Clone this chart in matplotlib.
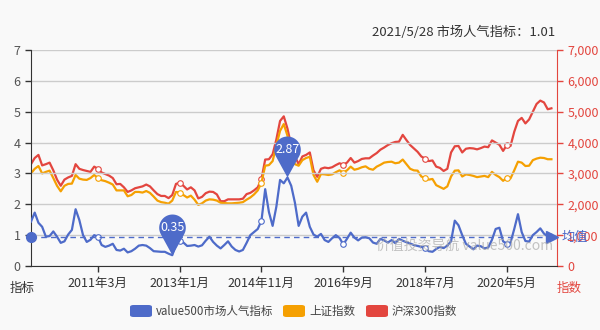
import numpy as np
import matplotlib
matplotlib.use("Agg")
import matplotlib.pyplot as plt
from matplotlib.path import Path
from matplotlib.markers import MarkerStyle
from matplotlib.patches import FancyBboxPatch
from matplotlib.ticker import FuncFormatter

plt.rcParams['font.family'] = ['Noto Sans CJK SC', 'DejaVu Sans']

# 月度数据 2009年9月 ~ 2021年5月
tick_idx = [18, 40, 62, 84, 106, 128]
tick_labels = ['2011年3月', '2013年1月', '2014年11月', '2016年9月', '2018年7月', '2020年5月']

# value500市场人气指标
popularity = [
    1.44, 1.73, 1.40, 1.27, 0.95, 0.97, 1.12, 0.95, 0.75, 0.80,
    1.02, 1.17, 1.84, 1.49, 1.00, 0.78, 0.85, 1.00, 0.95, 0.68,
    0.62, 0.66, 0.72, 0.52, 0.50, 0.56, 0.44, 0.48, 0.56, 0.66,
    0.68, 0.66, 0.58, 0.48, 0.47, 0.46, 0.46, 0.40, 0.35, 0.70,
    0.82, 0.76, 0.65, 0.66, 0.68, 0.63, 0.67, 0.82, 0.95, 0.78,
    0.66, 0.57, 0.68, 0.80, 0.63, 0.52, 0.47, 0.52, 0.75, 1.00,
    1.10, 1.20, 1.47, 2.49, 1.75, 1.30, 1.92, 2.79, 2.68, 2.87,
    2.60, 2.05, 1.30, 1.60, 1.73, 1.27, 1.02, 0.95, 1.04, 0.84,
    0.78, 0.90, 1.00, 0.91, 0.70, 0.88, 1.08, 0.92, 0.83, 0.92,
    0.93, 0.90, 0.76, 0.72, 0.88, 0.83, 0.76, 0.84, 0.74, 0.88,
    0.82, 0.77, 0.73, 0.68, 0.65, 0.62, 0.58, 0.48, 0.46, 0.55,
    0.62, 0.58, 0.66, 0.80, 1.47, 1.32, 1.00, 0.72, 0.63, 0.54,
    0.66, 0.64, 0.57, 0.60, 0.85, 1.20, 1.24, 0.80, 0.72, 0.76,
    1.20, 1.68, 1.10, 0.81, 0.79, 1.00, 1.10, 1.22, 1.05, 0.96,
    1.01,
]

# 上证指数
sh_index = [
    3000, 3150, 3240, 3000, 3050, 3090, 2850, 2600, 2420, 2600,
    2660, 2670, 2950, 2830, 2800, 2790, 2850, 2950, 2850, 2780,
    2750, 2700, 2640, 2450, 2450, 2450, 2260, 2300, 2400, 2400,
    2380, 2430, 2370, 2250, 2120, 2070, 2050, 2020, 2120, 2400,
    2380, 2300, 2220, 2280, 2150, 1980, 2030, 2120, 2160, 2150,
    2120, 2050, 2040, 2030, 2030, 2040, 2050, 2070, 2150, 2220,
    2320, 2450, 2700, 3250, 3270, 3400, 3900, 4380, 4600, 4220,
    3620, 3300, 3250, 3430, 3500, 3540, 2950, 2730, 2980, 2970,
    2950, 2970, 3040, 3100, 3030, 3100, 3220, 3120, 3150, 3200,
    3230, 3150, 3120, 3220, 3280, 3350, 3370, 3380, 3330, 3350,
    3450, 3300, 3150, 3100, 3090, 2900, 2850, 2800, 2820, 2620,
    2560, 2500, 2580, 2900, 3090, 3100, 2900, 2970, 2950, 2920,
    2880, 2900, 2920, 2880, 3050, 2950, 2880, 2760, 2860, 2840,
    3100, 3380, 3350, 3240, 3250, 3430, 3480, 3510, 3500, 3460,
    3460,
]

# 沪深300指数
hs300_index = [
    3300, 3500, 3600, 3260, 3300, 3350, 3100, 2800, 2600, 2800,
    2870, 2920, 3300, 3150, 3110, 3080, 3050, 3220, 3150, 3030,
    2980, 2930, 2850, 2650, 2660, 2550, 2400, 2450, 2520, 2550,
    2580, 2640, 2580, 2450, 2330, 2270, 2270, 2200, 2300, 2660,
    2700, 2600, 2480, 2550, 2450, 2190, 2240, 2360, 2410, 2400,
    2320, 2100, 2100, 2160, 2160, 2160, 2160, 2180, 2330, 2370,
    2450, 2550, 2820, 3450, 3460, 3620, 4100, 4700, 4850, 4450,
    3900, 3550, 3300, 3550, 3600, 3680, 3100, 2890, 3150, 3190,
    3170, 3200, 3270, 3330, 3280, 3350, 3500, 3350, 3400, 3470,
    3490, 3490, 3580, 3660, 3770, 3840, 3920, 3980, 4020, 4030,
    4250, 4080, 3920, 3810, 3700, 3550, 3480, 3400, 3420, 3220,
    3180, 3080, 3150, 3680, 3880, 3890, 3680, 3800, 3820, 3810,
    3780, 3820, 3870, 3850, 4070, 4000, 3930, 3730, 3920, 3890,
    4350, 4700, 4800, 4620, 4750, 5000, 5250, 5360, 5300, 5080,
    5110,
]

avg_value = 0.93
last_date = '2021/5/28'

blue = '#4e6bc9'
orange = '#f5a002'
red = '#e3463f'
bg = '#f9f9f9'


def pin_path():
    # 气泡标记，尖端在 (0, 0)
    r, c = 1.0, 2.08
    a = np.degrees(np.arccos(r / c))
    t = np.radians(np.linspace(-90 + a, 270 - a, 60))
    verts = [(0, 0)] + [(r * np.cos(v), c + r * np.sin(v)) for v in t] + [(0, 0)]
    return Path(verts, closed=True)


x = np.arange(len(popularity))

fig = plt.figure(figsize=(6, 3.3), dpi=100, facecolor=bg)
ax = fig.add_axes([31 / 600, 64 / 330, 526 / 600, 216 / 330], facecolor=bg)
ax2 = ax.twinx()

ax2.plot(x, hs300_index, color=red, lw=1.6, marker='o', ms=4, mfc='white',
         mec=red, mew=0.8, markevery=tick_idx, zorder=2)
ax2.plot(x, sh_index, color=orange, lw=1.6, marker='o', ms=4, mfc='white',
         mec=orange, mew=0.8, markevery=tick_idx, zorder=2)

ax.set_zorder(ax2.get_zorder() + 1)
ax.patch.set_visible(False)
fig.patch.set_facecolor(bg)

ax.plot(x, popularity, color=blue, lw=1.6, marker='o', ms=4, mfc='white',
        mec=blue, mew=0.8, markevery=tick_idx, zorder=3)

# 均值线
xmax = len(popularity) + 0.5
ax.plot([0, xmax], [avg_value, avg_value], color=blue, lw=1, ls=(0, (4, 3)), zorder=3)
ax.plot(0, avg_value, 'o', color=blue, ms=7, clip_on=False, zorder=4)
ax.plot(xmax - 1.3, avg_value, marker='>', color=blue, ms=8, clip_on=False, zorder=4)
ax.annotate('均值', (xmax, avg_value), xytext=(3, 0), textcoords='offset points',
            color=blue, fontsize=9.5, va='center', ha='left', annotation_clip=False)

# 最大 / 最小 标记
pin = MarkerStyle(pin_path())
for idx in (int(np.argmin(popularity)), int(np.argmax(popularity))):
    ax.plot(idx, popularity[idx], marker=pin, ms=59, color=blue, mec='none', zorder=5)
    ax.annotate(f'{popularity[idx]:.2f}', (idx, popularity[idx]), xytext=(0, 20),
                textcoords='offset points', color='white', fontsize=9,
                ha='center', va='center', zorder=6)

ax.set_xlim(0, xmax)
ax.set_ylim(0, 7)
ax2.set_ylim(0, 7000)
ax.set_yticks(range(0, 8))
ax2.set_yticks(range(0, 7001, 1000))
ax2.yaxis.set_major_formatter(FuncFormatter(lambda v, p: f'{v:,.0f}'))
ax.set_xticks(tick_idx)
ax.set_xticklabels(tick_labels)

ax.yaxis.grid(True, color='#cccccc', lw=1)
ax.set_axisbelow(True)
for s in ('top', 'right'):
    ax.spines[s].set_visible(False)
for s in ('top', 'left', 'bottom'):
    ax2.spines[s].set_visible(False)
ax.spines['left'].set_color('#333333')
ax.spines['bottom'].set_color('#333333')
ax2.spines['right'].set_color(red)
ax.tick_params(axis='both', colors='#333333', labelcolor='#555555', labelsize=9,
               length=4, width=1)
ax.tick_params(axis='x', labelcolor='#333333', pad=4)
ax2.tick_params(axis='y', colors=red, labelcolor=red, labelsize=9, length=4, width=1)

fig.text(22 / 600, 1 - 288 / 330, '指标', fontsize=9, color='#333333', ha='center', va='center')
fig.text(569 / 600, 1 - 288 / 330, '指数', fontsize=9, color=red, ha='center', va='center')
fig.text(555 / 600, 1 - 32 / 330, f'{last_date} 市场人气指标：{popularity[-1]:.2f}',
         fontsize=9.5, color='#333333', ha='right', va='center')
fig.text(465 / 600, 1 - 246 / 330, '价值投资导航 value500.com', fontsize=10,
         color='#aaaaaa', alpha=0.7, ha='center', va='center', zorder=10)

# 图例
legend_items = [('value500市场人气指标', blue, 130), ('上证指数', orange, 283), ('沪深300指数', red, 366)]
for label, col, px in legend_items:
    fig.patches.append(FancyBboxPatch((px / 600, 1 - 317 / 330), 22 / 600, 12 / 330,
                                      boxstyle='round,pad=0,rounding_size=0.006',
                                      transform=fig.transFigure, facecolor=col,
                                      edgecolor='none'))
    fig.text((px + 26) / 600, 1 - 311 / 330, label, fontsize=8.3, color='#444444',
             ha='left', va='center')

fig.savefig('out.png', dpi=100, facecolor=bg)
